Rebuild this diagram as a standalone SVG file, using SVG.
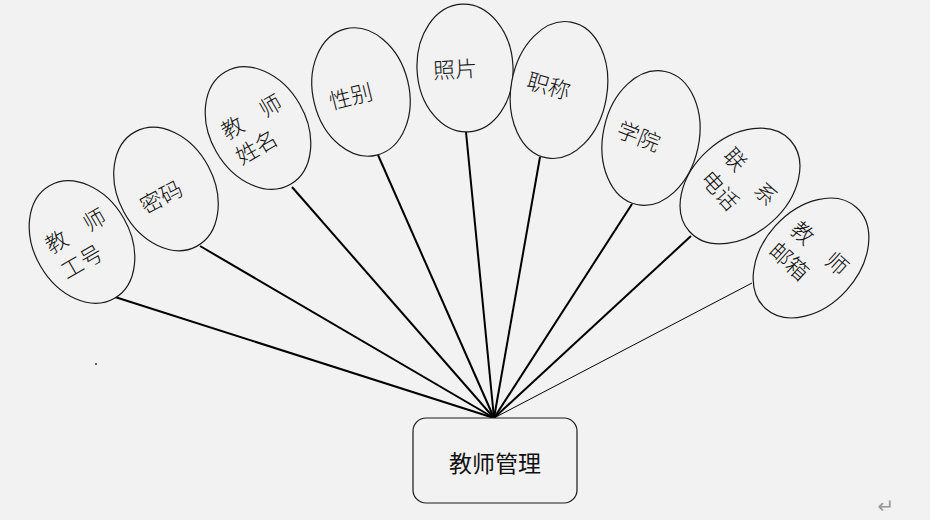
<svg xmlns="http://www.w3.org/2000/svg" width="930" height="520" viewBox="0 0 930 520">
<defs>
<style>
.bg{fill:#f2f2f2}
.el{fill:#f2f2f2;stroke:#1a1a1a;stroke-width:1.2}
.ln{stroke:#000;stroke-width:2;fill:none}
.thin{stroke:#000;stroke-width:1;fill:none}
.t{font-family:"Noto Sans CJK SC","Noto Sans",sans-serif;font-size:22px;font-weight:300;fill:#111;text-anchor:middle;dominant-baseline:central}
.box{fill:#f2f2f2;stroke:#1a1a1a;stroke-width:1.2}
.bt{font-family:"Noto Sans CJK SC","Noto Sans",sans-serif;font-size:23px;fill:#111;text-anchor:middle;dominant-baseline:central}
</style>
</defs>
<rect class="bg" x="0" y="0" width="930" height="520"/>
<g id="connectors">
<line class="ln" x1="115" y1="297" x2="494" y2="418"/>
<line class="ln" x1="200" y1="246" x2="494" y2="418"/>
<line class="ln" x1="292" y1="187" x2="494" y2="418"/>
<line class="ln" x1="378" y1="155" x2="494" y2="418"/>
<line class="ln" x1="466" y1="132" x2="494" y2="418"/>
<line class="ln" x1="540" y1="157" x2="494" y2="418"/>
<line class="ln" x1="632" y1="204" x2="494" y2="418"/>
<line class="ln" x1="691" y1="236" x2="494" y2="418"/>
<line class="thin" x1="752" y1="283" x2="494" y2="418"/>
</g>
<g id="n-gonghao" transform="translate(82,242) rotate(-30)">
<ellipse class="el" cx="0" cy="0" rx="48" ry="65"/>
<text class="t" x="-22 22" y="-15">教师</text>
<text class="t" x="-10" y="15">工号</text>
</g>
<g id="n-mima" transform="translate(166,189) rotate(-28)">
<ellipse class="el" cx="0" cy="0" rx="48" ry="65"/>
<text class="t" x="-8" y="3">密码</text>
</g>
<g id="n-xingming" transform="translate(258,128) rotate(-30)">
<ellipse class="el" cx="0" cy="0" rx="48" ry="65"/>
<text class="t" x="-22 22" y="-15">教师</text>
<text class="t" x="-11" y="14">姓名</text>
</g>
<g id="n-xingbie" transform="translate(361,92) rotate(-14)">
<ellipse class="el" cx="0" cy="0" rx="48" ry="65"/>
<text class="t" x="-11" y="0">性别</text>
</g>
<g id="n-zhaopian" transform="translate(465,68) rotate(-3)">
<ellipse class="el" cx="0" cy="0" rx="48" ry="64"/>
<text class="t" x="-10" y="-1">照片</text>
</g>
<g id="n-zhicheng" transform="translate(559,90) rotate(10)">
<ellipse class="el" cx="0" cy="0" rx="48" ry="69"/>
<text class="t" x="-11" y="-3" transform="rotate(6)">职称</text>
</g>
<g id="n-xueyuan" transform="translate(651,138) rotate(12)">
<ellipse class="el" cx="0" cy="0" rx="48" ry="68"/>
<text class="t" x="-12" y="1" transform="rotate(9)">学院</text>
</g>
<g id="n-dianhua" transform="translate(740,186) rotate(48)">
<ellipse class="el" cx="0" cy="0" rx="48" ry="68"/>
<text class="t" x="-23 23" y="-16">联系</text>
<text class="t" x="-10" y="16">电话</text>
</g>
<g id="n-youxiang" transform="translate(811,258) rotate(42)">
<ellipse class="el" cx="0" cy="0" rx="48" ry="68"/>
<text class="t" x="-23 23" y="-15">教师</text>
<text class="t" x="-14" y="15">邮箱</text>
</g>
<g id="n-main">
<rect class="box" x="413" y="418" width="164" height="85" rx="13" ry="13"/>
<text class="bt" x="495" y="462">教师管理</text>
</g>
<circle cx="96" cy="364" r="1" fill="#333"/>
<text x="886" y="513" font-family="DejaVu Sans, sans-serif" font-size="20" fill="#999" text-anchor="middle">↵</text>
</svg>
